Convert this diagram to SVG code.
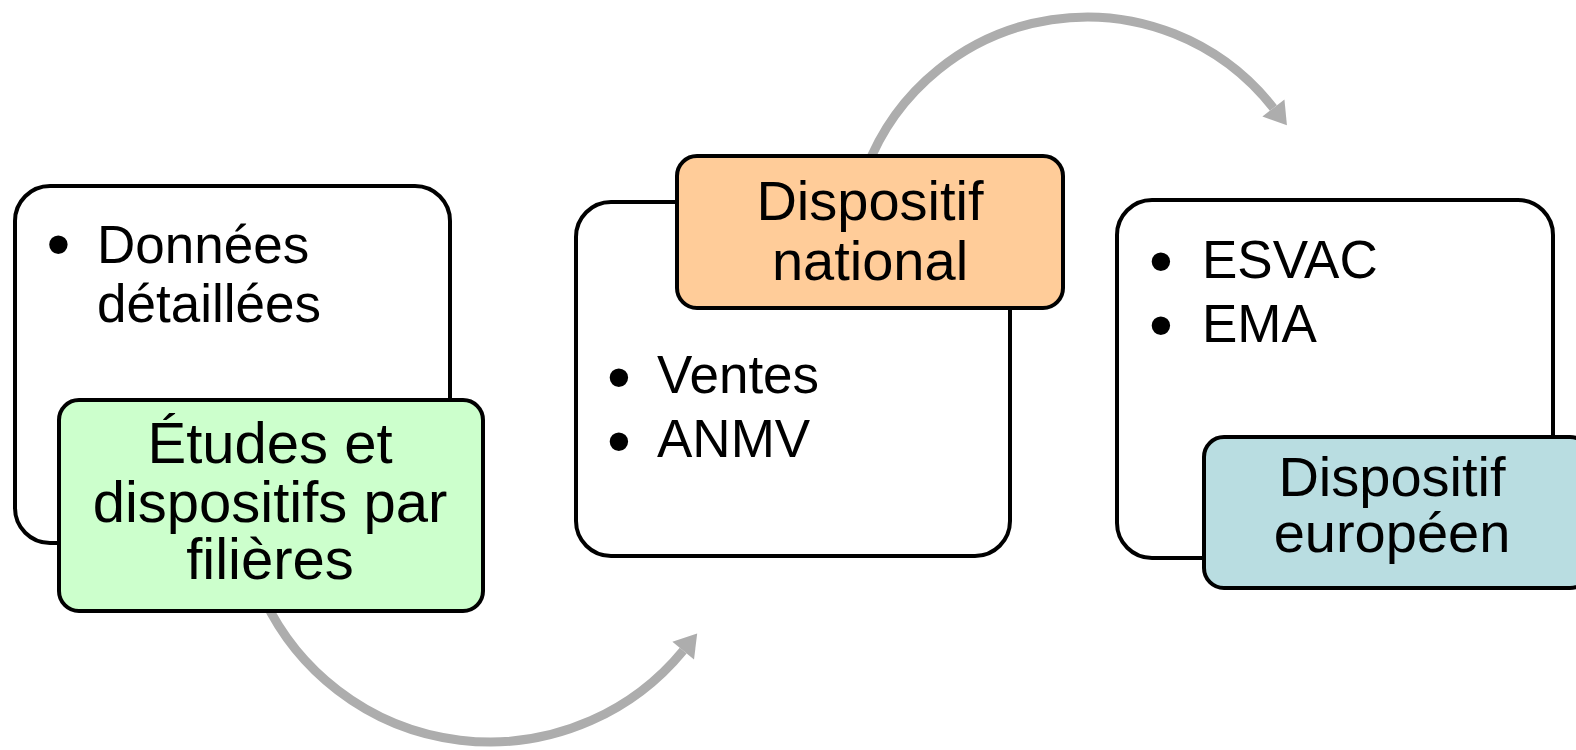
<svg xmlns="http://www.w3.org/2000/svg" width="1576" height="750" viewBox="0 0 1576 750">
<style>
.box{fill:#FFFFFF;stroke:#000000;stroke-width:4}
.tag{stroke:#000000;stroke-width:4}
.t{font-family:"Liberation Sans",Arial,sans-serif;fill:#000000}
.b{font-size:53px}
.bu{font-size:68px}
.c{text-anchor:middle}
.arc{fill:none;stroke:#ADADAD;stroke-width:9}
</style>
<defs>
<marker id="ah" markerUnits="userSpaceOnUse" orient="auto" viewBox="0 -15 23 30" refX="0" refY="0" markerWidth="23" markerHeight="30" overflow="visible">
<path d="M0,-14 L22,0 L0,14 z" fill="#ADADAD"/>
</marker>
</defs>
<g id="connectors">
<path class="arc" d="M264.5,600 A250,250 0 0 0 683.2,650.6" marker-end="url(#ah)"/>
<path class="arc" d="M865.8,170 A236.4,236.4 0 0 1 1273.4,108" marker-end="url(#ah)"/>
</g>
<g id="node1">
<rect class="box" x="15" y="186" width="435" height="357" rx="35"/>
<text class="t bu" x="46.5" y="267">•</text>
<text class="t b" x="97" y="263">Données</text>
<text class="t b" x="97" y="322">détaillées</text>
</g>
<g id="node1-label">
<rect class="tag" x="59" y="400" width="424" height="211" rx="20" fill="#CCFFCC"/>
<text class="t c" x="270" y="463" font-size="58">Études et</text>
<text class="t c" x="270" y="522" font-size="58">dispositifs par</text>
<text class="t c" x="270" y="579" font-size="58">filières</text>
</g>
<g id="node2">
<rect class="box" x="576" y="202" width="434" height="354" rx="35"/>
<text class="t bu" x="607" y="400">•</text>
<text class="t b" x="657" y="393">Ventes</text>
<text class="t bu" x="607" y="464">•</text>
<text class="t b" x="657" y="457">ANMV</text>
</g>
<g id="node2-label">
<rect class="tag" x="677" y="156" width="386" height="152" rx="20" fill="#FFCC99"/>
<text class="t c" x="870" y="220" font-size="56">Dispositif</text>
<text class="t c" x="870" y="280" font-size="56">national</text>
</g>
<g id="node3">
<rect class="box" x="1117" y="200" width="436" height="358" rx="35"/>
<text class="t bu" x="1149" y="284">•</text>
<text class="t b" x="1202" y="278">ESVAC</text>
<text class="t bu" x="1149" y="348">•</text>
<text class="t b" x="1202" y="342">EMA</text>
</g>
<g id="node3-label">
<rect class="tag" x="1204" y="437" width="386" height="151" rx="20" fill="#B9DDE1"/>
<text class="t c" x="1392" y="496" font-size="56">Dispositif</text>
<text class="t c" x="1392" y="552" font-size="56">européen</text>
</g>
</svg>
